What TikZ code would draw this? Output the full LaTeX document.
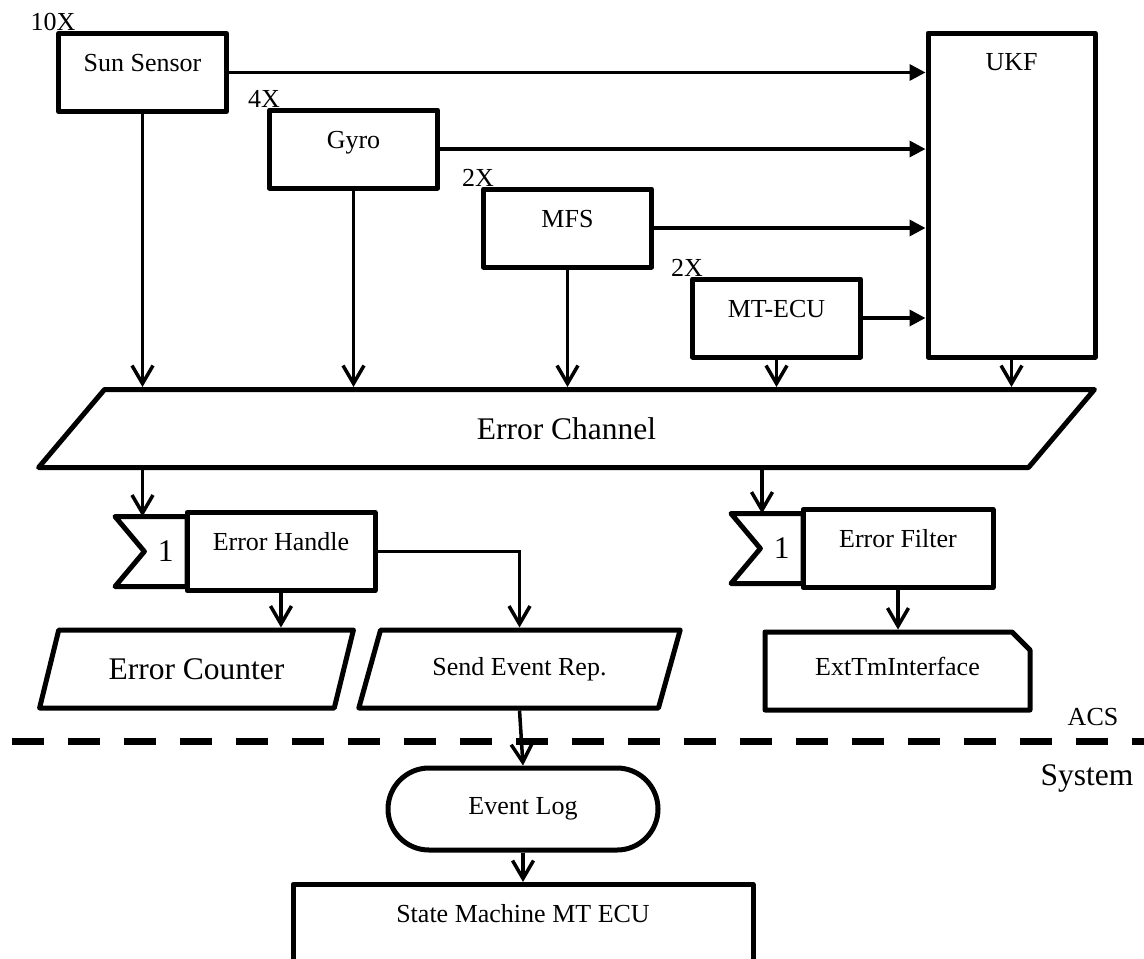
\documentclass[tikz,border=0pt]{standalone}
\usepackage{fontspec}
\setmainfont{Liberation Serif}
\usetikzlibrary{arrows.meta, positioning, shapes.geometric, shapes.misc, shapes.symbols}
\newcommand{\mysmallfont}{\fontsize{13}{15.6}\selectfont}
\newcommand{\mylargefont}{\fontsize{15.75}{19}\selectfont}

\begin{document}
\begin{tikzpicture}[x=0.5pt, y=-0.5pt,
    unit/.style={draw, line width=2.5pt, line join=round, inner sep=0pt, font=\mysmallfont,
        minimum width=84pt, text height=19pt, text depth=20pt},
    count/.style={anchor=south, inner sep=0pt, xshift=-1.5pt, font=\mysmallfont},
    datastore/.style={draw, line width=2.5pt, line join=round, trapezium, trapezium left angle=60,
        trapezium right angle=120, trapezium stretches=true, minimum height=39pt, inner sep=0pt},
    receive/.style={draw, line width=2.5pt, line join=round, signal, signal to=nowhere, signal from=west,
        signal pointer angle=100, minimum width=36pt, minimum height=35pt, inner sep=0pt, outer sep=0pt,
        font=\mylargefont},
    flow/.style={line width=1.75pt, -{Straight Barb[length=9pt, width=10.5pt]}},
    feed/.style={line width=1.75pt, -{Triangle[length=8pt, width=8pt]}}]
\useasboundingbox (0,0) rectangle (1144,958);

% Sensors and actuators
\foreach \name/\txt/\cnt/\x/\y in {sun/Sun Sensor/10X/142.5/72.5, gyro/Gyro/4X/353.5/149,
    mfs/MFS/2X/567.5/228, mtecu/MT-ECU/2X/776.5/318}
    \node[unit, label={[count]north west:\cnt}] (\name) at (\x,\y) {\txt};

% Filter and error channel
\node[unit, minimum width=83.5pt, text height=18.75pt, text depth=143.25pt] (ukf) at (1011.5,195) {UKF};
\node[datastore, minimum width=528.5pt, font=\mylargefont] (chan) at (566.5,428.5) {Error Channel};

\foreach \name in {sun, gyro, mfs, mtecu} {
    \draw[feed] (\name.east) -- (\name.east -| ukf.west);
    \draw[flow] (\name.south) -- (\name.south |- chan.north);
}
\draw[flow] (ukf.south) -- (ukf.south |- chan.north);

% Error handling
\node[unit, minimum width=94pt] (handle) at (281,551.5) {Error Handle};
\node[receive, anchor=east] (handlein) at ([xshift=1.25pt]handle.west) {1};
\node[unit, minimum width=95pt] (filter) at (898,548.5) {Error Filter};
\node[receive, anchor=east] (filterin) at ([xshift=1.25pt]filter.west) {1};

\draw[flow] (sun.south |- chan.south) -- (sun.south |- handlein.north);
\draw[flow] ([xshift=-19.25pt]filter.west |- chan.south) -- ([xshift=-19.25pt]filter.west |- filterin.north);

\node[datastore, minimum width=158.5pt, font=\mylargefont] (counter) at (196.5,669) {Error Counter};
\node[datastore, minimum width=161.5pt, font=\mysmallfont] (send) at (519.5,669) {Send Event Rep.};
\node[unit, chamfered rectangle, chamfered rectangle corners=north east, chamfered rectangle xsep=5pt,
    chamfered rectangle ysep=4pt, minimum width=132.5pt, text height=17.75pt, text depth=13.25pt]
    (ext) at (897.5,671) {ExtTmInterface};

\draw[flow] (handle.south) -- (handle.south |- counter.north);
\draw[flow] (handle.east) -| (send.north);
\draw[flow] (filter.south) -- (filter.south |- ext.north);

% ACS / System border
\draw[line width=3.5pt, dash pattern=on 16pt off 12pt] (12,741) -- (1144,741);
\node[font=\mysmallfont, anchor=base] (acs) at (1093,725) {ACS};
\node[font=\mylargefont, anchor=base] (system) at (1087,785) {System};

% System side
\node[draw, line width=2.5pt, rounded rectangle, minimum width=135pt, minimum height=41pt, inner sep=0pt,
    font=\mysmallfont] (log) at (523,809) {Event Log};
\node[unit, anchor=north, minimum width=230pt, text height=19pt, text depth=41pt] (fsm) at (523,882)
    {State Machine MT ECU};

\draw[flow] (send.south) -- (log.north);
\draw[flow] (log.south) -- (fsm.north);
\end{tikzpicture}
\end{document}
